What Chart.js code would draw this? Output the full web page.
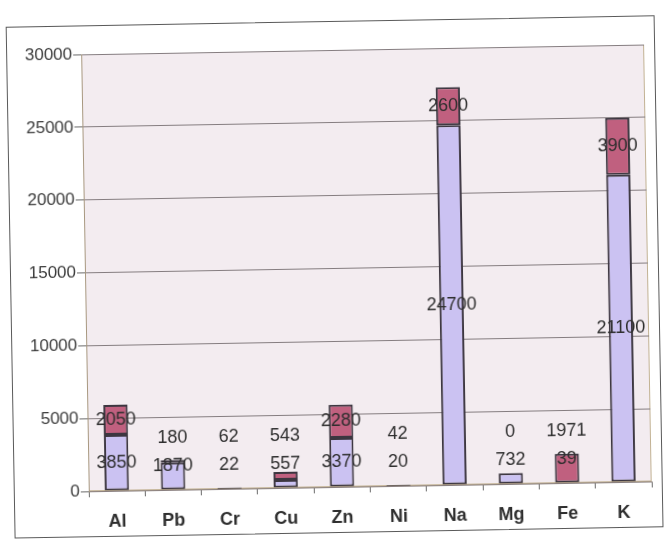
<!DOCTYPE html>
<html>
<head>
<meta charset="utf-8">
<script src="https://cdn.jsdelivr.net/npm/chart.js@4/dist/chart.umd.min.js"></script>
<style>
  html, body { margin: 0; padding: 0; background: #ffffff; }
  #wrap {
    position: relative; width: 667px; height: 544px;
    transform: rotate(-1deg); transform-origin: 50% 50%;
  }
  #frame {
    position: absolute; left: 10px; top: 21px; width: 649px; height: 512px;
    border: 1.5px solid #5a5a5a; box-sizing: border-box;
  }
  #chart { position: absolute; left: 0; top: 0; }
</style>
</head>
<body>
<div id="wrap">
  <div id="frame"></div>
  <canvas id="chart" width="667" height="544"></canvas>
</div>
<script>
// Elements and their two stacked amounts
const categories = ['Al', 'Pb', 'Cr', 'Cu', 'Zn', 'Ni', 'Na', 'Mg', 'Fe', 'K'];
const lowerValues = [3850, 1870, 22, 557, 3370, 20, 24700, 732, 39, 21100];
const upperValues = [2050, 180, 62, 543, 2280, 42, 2600, 0, 1971, 3900];
const yTicks = [0, 5000, 10000, 15000, 20000, 25000, 30000];

// Plot area background and border
const plotBackground = {
  id: 'plotBackground',
  beforeDraw(chart) {
    const { ctx, chartArea: a } = chart;
    ctx.save();
    ctx.fillStyle = '#f3ecf0';
    ctx.fillRect(a.left, a.top, a.right - a.left, a.bottom - a.top);
    ctx.strokeStyle = '#c2b293';
    ctx.lineWidth = 1;
    ctx.strokeRect(a.left + 0.5, a.top + 0.5, a.right - a.left - 1, a.bottom - a.top - 1);
    ctx.restore();
  }
};

// Value labels: centred in each segment, lifted above the bar when the segment is too thin
const valueLabels = {
  id: 'valueLabels',
  afterDatasetsDraw(chart) {
    const { ctx } = chart;
    const low = chart.getDatasetMeta(0).data;
    const up = chart.getDatasetMeta(1).data;
    ctx.save();
    ctx.font = '18px "Liberation Sans", Arial, sans-serif';
    ctx.fillStyle = '#2e2e2e';
    ctx.textAlign = 'center';
    ctx.textBaseline = 'middle';
    for (let i = 0; i < categories.length; i++) {
      const b = low[i], t = up[i];
      const bCenter = (b.y + b.base) / 2;
      const bY = Math.min(bCenter, b.base - 23);
      const tCenter = (t.y + t.base) / 2;
      const tY = Math.min(tCenter, bY - 28);
      ctx.fillText(String(lowerValues[i]), b.x, bY);
      ctx.fillText(String(upperValues[i]), t.x, tY);
    }
    ctx.restore();
  }
};

new Chart(document.getElementById('chart'), {
  type: 'bar',
  data: {
    labels: categories,
    datasets: [
      {
        data: lowerValues,
        backgroundColor: '#cbc2f2',
        borderColor: '#3c3640',
        borderWidth: 2,
        borderSkipped: false,
        categoryPercentage: 1,
        barPercentage: 0.43
      },
      {
        data: upperValues,
        backgroundColor: '#c0607f',
        borderColor: '#3c3640',
        borderWidth: 2,
        borderSkipped: false,
        categoryPercentage: 1,
        barPercentage: 0.43
      }
    ]
  },
  options: {
    responsive: false,
    animation: false,
    events: [],
    layout: { padding: { left: 0, top: 50, right: 19, bottom: 0 } },
    plugins: { legend: { display: false }, tooltip: { enabled: false } },
    scales: {
      x: {
        stacked: true,
        offset: true,
        grid: {
          offset: true,
          drawOnChartArea: false,
          drawTicks: true,
          tickLength: 6,
          tickColor: '#6a6a6a',
          tickWidth: 1
        },
        border: { color: '#8a8080', width: 1 },
        ticks: {
          color: '#2e2e2e',
          padding: 14,
          font: { family: '"Liberation Sans", Arial, sans-serif', size: 18, weight: 'bold' }
        },
        afterFit(scale) { scale.height = 57; }
      },
      y: {
        stacked: true,
        min: 0,
        max: 30000,
        afterBuildTicks(scale) { scale.ticks = yTicks.map(v => ({ value: v })); },
        grid: {
          color: '#857d80',
          lineWidth: 1,
          tickLength: 8,
          tickColor: '#6a6a6a'
        },
        border: { color: '#a89880', width: 1 },
        ticks: {
          color: '#3a3a3a',
          padding: 1,
          font: { family: '"Liberation Sans", Arial, sans-serif', size: 17 },
          callback: v => String(v)
        },
        afterFit(scale) { scale.width = 85; }
      }
    }
  },
  plugins: [plotBackground, valueLabels]
});
</script>
</body>
</html>
